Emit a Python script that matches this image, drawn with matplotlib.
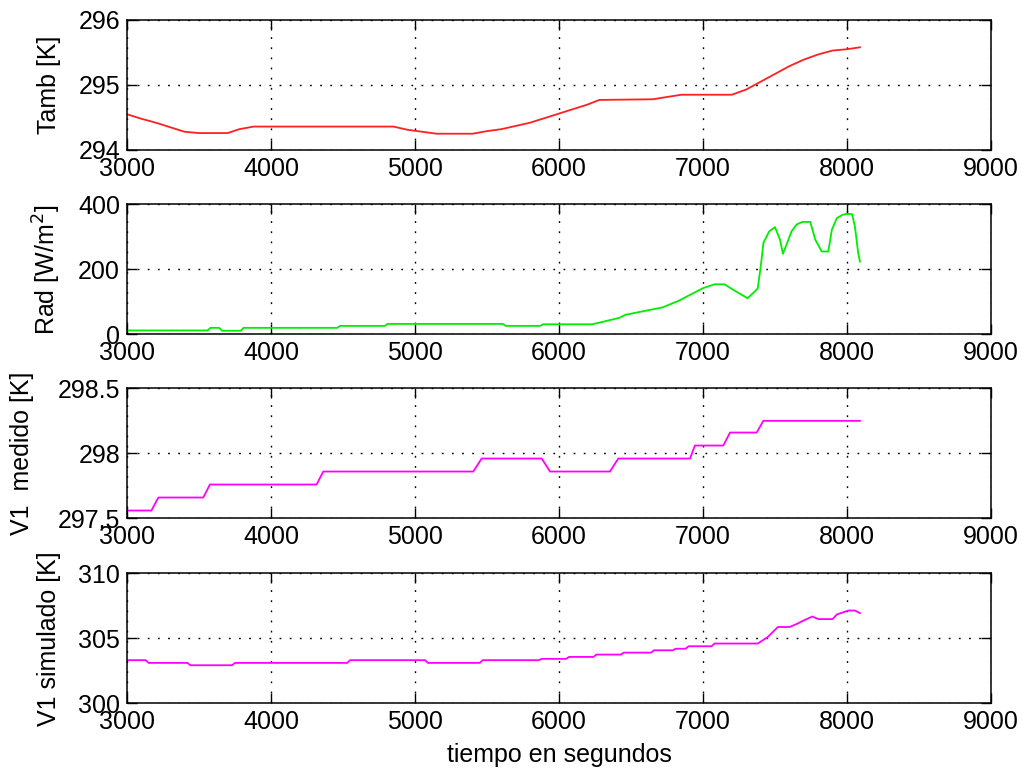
import matplotlib
matplotlib.use('Agg')
import matplotlib.pyplot as plt

plt.rcParams['font.family'] = ['Liberation Sans', 'DejaVu Sans']

# Temperatura ambiente
t_tamb = [3000, 3100, 3200, 3300, 3400, 3500, 3700, 3780, 3880, 4850, 4950, 5150,
          5400, 5500, 5600, 5700, 5800, 5900, 6000, 6100, 6200, 6280, 6650, 6850,
          7200, 7300, 7400, 7500, 7600, 7700, 7800, 7900, 8000, 8090]
tamb = [294.55, 294.48, 294.42, 294.35, 294.28, 294.26, 294.26, 294.32, 294.36,
        294.36, 294.31, 294.25, 294.25, 294.29, 294.32, 294.37, 294.42, 294.49,
        294.56, 294.63, 294.70, 294.77, 294.78, 294.85, 294.85, 294.93, 295.05,
        295.17, 295.29, 295.39, 295.47, 295.53, 295.55, 295.58]

# Radiacion
t_rad = [3000, 3560, 3580, 3640, 3660, 3790, 3810, 4460, 4480, 4790, 4810, 5610,
         5630, 5870, 5890, 6230, 6300, 6420, 6460, 6550, 6720, 6830, 6930, 7000,
         7080, 7150, 7210, 7310, 7380, 7400, 7420, 7460, 7500, 7535, 7555, 7580,
         7615, 7650, 7690, 7745, 7780, 7825, 7870, 7895, 7930, 7970, 8000, 8035,
         8055, 8078, 8090]
rad = [12, 12, 20, 20, 11, 11, 20, 20, 26, 26, 32, 32, 26, 26, 31, 31, 38, 51, 60,
       68, 83, 103, 126, 142, 154, 154, 137, 111, 141, 205, 282, 317, 330, 291,
       248, 276, 317, 338, 346, 346, 291, 255, 255, 322, 358, 368, 371, 370, 332,
       250, 224]

# V1 medido
t_med = [3000, 3170, 3218, 3530, 3576, 4317, 4363, 5405, 5463, 5880, 5938, 6354,
         6412, 6910, 6944, 7141, 7188, 7373, 7419, 8090]
v1_med = [297.56, 297.56, 297.66, 297.66, 297.76, 297.76, 297.86, 297.86, 297.96,
          297.96, 297.86, 297.86, 297.96, 297.96, 298.06, 298.06, 298.16, 298.16,
          298.25, 298.25]

# V1 simulado
t_sim = [3000, 3130, 3150, 3420, 3440, 3730, 3750, 4530, 4550, 5070, 5090, 5450,
         5470, 5860, 5880, 6050, 6070, 6240, 6260, 6430, 6450, 6640, 6660, 6790,
         6810, 6880, 6900, 7060, 7080, 7380, 7450, 7520, 7600, 7650, 7700, 7760,
         7800, 7900, 7930, 8010, 8055, 8090]
v1_sim = [303.32, 303.32, 303.11, 303.11, 302.93, 302.93, 303.11, 303.11, 303.32,
          303.32, 303.11, 303.11, 303.32, 303.32, 303.42, 303.42, 303.57, 303.57,
          303.75, 303.75, 303.9, 303.9, 304.08, 304.08, 304.2, 304.2, 304.39,
          304.39, 304.6, 304.6, 305.1, 305.87, 305.87, 306.1, 306.38, 306.68,
          306.48, 306.48, 306.84, 307.14, 307.14, 306.94]

paneles = [
    (t_tamb, tamb, '#ff2020', (294, 296), [294, 295, 296], 'Tamb [K]', -0.090),
    (t_rad, rad, '#00ee00', (0, 400), [0, 200, 400], 'Rad [W/m$^2$]', -0.093),
    (t_med, v1_med, '#ff00ff', (297.5, 298.5), [297.5, 298, 298.5], 'V1  medido [K]', -0.121),
    (t_sim, v1_sim, '#ff00ff', (300, 310), [300, 305, 310], 'V1 simulado [K]', -0.090),
]

fig = plt.figure(figsize=(10.28, 7.75), dpi=100)
bottoms = [0.8065, 0.5686, 0.3312, 0.0925]

for (x, y, color, ylim, yticks, ylabel, lx), b in zip(paneles, bottoms):
    ax = fig.add_axes([0.1235, b, 0.8405, 0.1677])
    ax.plot(x, y, color=color, linewidth=1.3)
    ax.set_xlim(3000, 9000)
    ax.set_ylim(*ylim)
    ax.set_xticks([3000, 4000, 5000, 6000, 7000, 8000, 9000])
    ax.set_yticks(yticks)
    ax.set_yticklabels([('%g' % v) for v in yticks])
    ax.grid(True, color='k', linestyle=(0, (1.3, 6)), linewidth=1.0)
    ax.tick_params(direction='in', top=True, right=True, length=7, width=1,
                   labelsize=18, pad=5)
    for s in ax.spines.values():
        s.set_linewidth(1.1)
    ax.set_ylabel(ylabel, fontsize=18, va='center')
    ax.yaxis.set_label_coords(lx, 0.5)
    last = ax

last.set_xlabel('tiempo en segundos', fontsize=18, labelpad=6)

fig.savefig('out.png', dpi=100)
